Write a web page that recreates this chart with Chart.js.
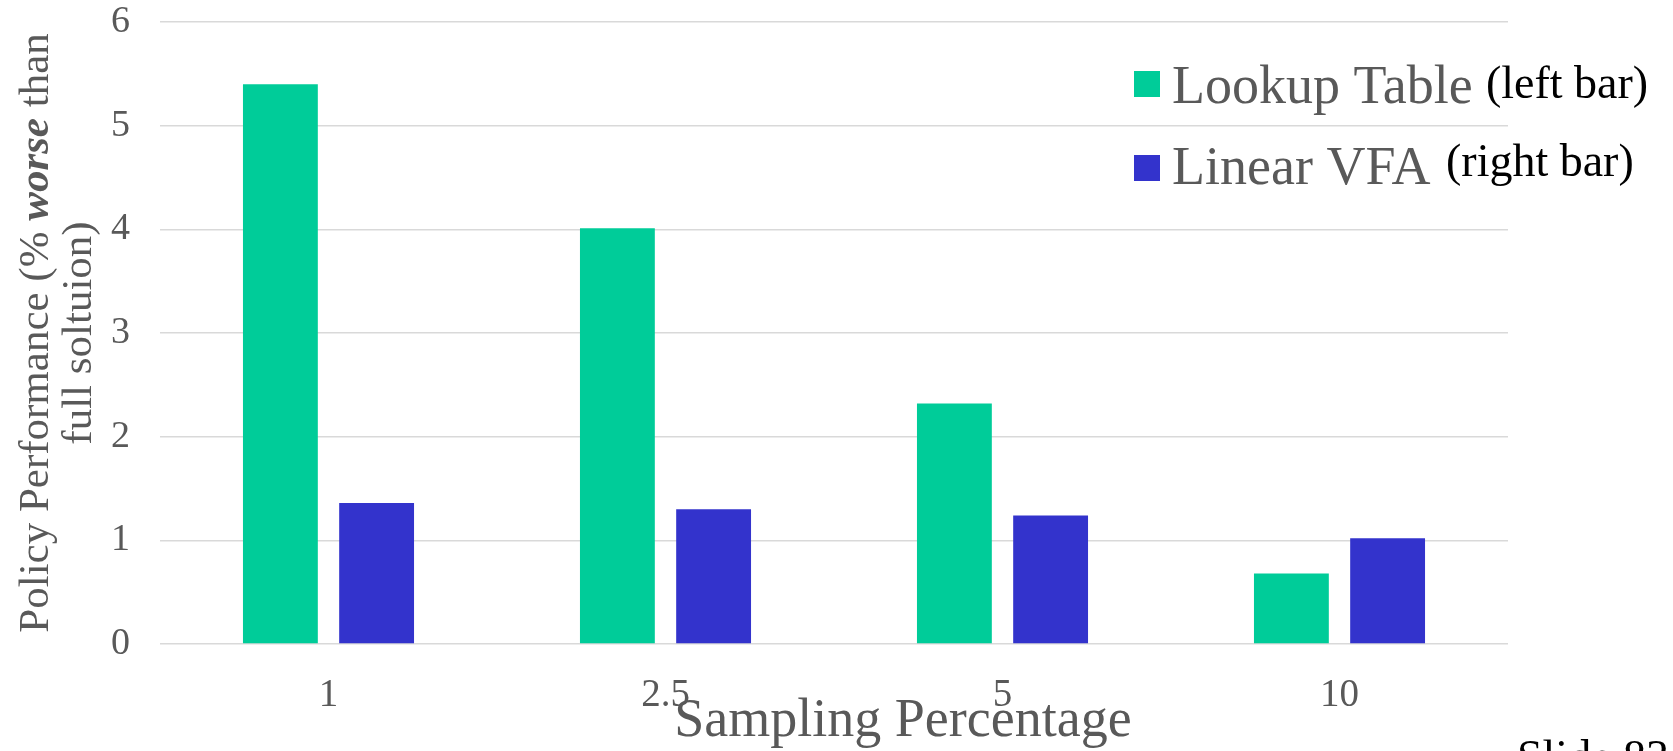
<!DOCTYPE html>
<html>
<head>
<meta charset="utf-8">
<script src="https://cdn.jsdelivr.net/npm/chart.js@4.4.1/dist/chart.umd.min.js"></script>
<style>
  html, body { margin: 0; padding: 0; background: #ffffff; }
  canvas { display: block; }
</style>
</head>
<body>
<canvas id="chart" width="1673" height="751"></canvas>
<script>
// Sampling percentages on the x axis
const categories = ['1', '2.5', '5', '10'];
// Policy performance, % worse than the full solution
const lookupTable = [5.40, 4.01, 2.32, 0.68];
const linearVFA = [1.36, 1.30, 1.24, 1.02];
// Value axis ticks
const yTicks = [0, 1, 2, 3, 4, 5, 6];
// Series names and the notes written beside them
const seriesNames = ['Lookup Table', 'Linear VFA'];
const seriesNotes = ['(left bar)', '(right bar)'];

const SERIF = "'Liberation Serif', 'Times New Roman', Times, serif";
const GREY = '#595959';
const COLORS = ['#00cc99', '#3333cc'];

// Axis titles, in-plot legend and slide number
const annotations = {
  id: 'annotations',
  afterDraw(chart) {
    const ctx = chart.ctx;
    const area = chart.chartArea;
    ctx.save();

    // y axis title: two rotated lines, "worse" in bold italic
    const cy = (area.top + area.bottom) / 2;
    const line1 = [
      { t: 'Policy Performance (% ', f: `43px ${SERIF}` },
      { t: 'worse', f: `italic bold 43px ${SERIF}` },
      { t: ' than', f: `43px ${SERIF}` }
    ];
    const line2 = [{ t: 'full soltuion)', f: `43px ${SERIF}` }];
    const drawRotated = (parts, bx) => {
      let w = 0;
      parts.forEach(p => { ctx.font = p.f; w += ctx.measureText(p.t).width; });
      ctx.save();
      ctx.translate(bx, cy);
      ctx.rotate(-Math.PI / 2);
      ctx.fillStyle = GREY;
      ctx.textBaseline = 'alphabetic';
      ctx.textAlign = 'left';
      let x = -w / 2;
      parts.forEach(p => { ctx.font = p.f; ctx.fillText(p.t, x, 0); x += ctx.measureText(p.t).width; });
      ctx.restore();
    };
    drawRotated(line1, 48);
    drawRotated(line2, 91);

    // x axis title
    ctx.font = `54px ${SERIF}`;
    ctx.fillStyle = GREY;
    ctx.textAlign = 'center';
    ctx.textBaseline = 'alphabetic';
    ctx.fillText('Sampling Percentage', 903, 736);

    // legend drawn inside the plot, upper right
    const rows = [
      { sq: 71, base: 103, noteX: 1486, noteBase: 98 },
      { sq: 155, base: 184, noteX: 1446, noteBase: 176 }
    ];
    chart.data.datasets.forEach((ds, i) => {
      const r = rows[i];
      ctx.fillStyle = ds.backgroundColor;
      ctx.fillRect(1134, r.sq, 26, 26);
      ctx.font = `54px ${SERIF}`;
      ctx.fillStyle = GREY;
      ctx.textAlign = 'left';
      ctx.fillText(ds.label, 1172, r.base);
      ctx.font = `46px ${SERIF}`;
      ctx.fillStyle = '#000000';
      ctx.fillText(seriesNotes[i], r.noteX, r.noteBase);
    });

    // slide number, cut by the bottom edge
    ctx.font = `46px ${SERIF}`;
    ctx.fillStyle = '#000000';
    ctx.textAlign = 'left';
    ctx.fillText('Slide 83', 1517, 772);

    ctx.restore();
  }
};

new Chart(document.getElementById('chart'), {
  type: 'bar',
  data: {
    labels: categories,
    datasets: [
      { label: seriesNames[0], data: lookupTable, backgroundColor: COLORS[0], borderWidth: 0 },
      { label: seriesNames[1], data: linearVFA, backgroundColor: COLORS[1], borderWidth: 0 }
    ]
  },
  options: {
    responsive: false,
    animation: false,
    devicePixelRatio: 1,
    categoryPercentage: 0.571,
    barPercentage: 0.778,
    layout: { padding: { left: 0, right: 165, top: 0, bottom: 0 } },
    plugins: {
      legend: { display: false },
      tooltip: { enabled: false },
      title: { display: false }
    },
    scales: {
      x: {
        grid: { display: false },
        border: { display: false },
        ticks: { color: GREY, font: { family: SERIF, size: 39 }, padding: 20, maxRotation: 0 },
        afterFit(scale) { scale.height = 107; }
      },
      y: {
        min: yTicks[0],
        max: yTicks[yTicks.length - 1],
        afterBuildTicks(scale) { scale.ticks = yTicks.map(v => ({ value: v })); },
        ticks: { color: GREY, font: { family: SERIF, size: 38 }, padding: 30 },
        grid: { color: '#d9d9d9', lineWidth: 1.5, drawTicks: false },
        border: { display: false },
        afterFit(scale) {
          scale.width = 160;
          scale.paddingTop = 22;
          scale.paddingBottom = 0;
        }
      }
    }
  },
  plugins: [annotations]
});
</script>
</body>
</html>
